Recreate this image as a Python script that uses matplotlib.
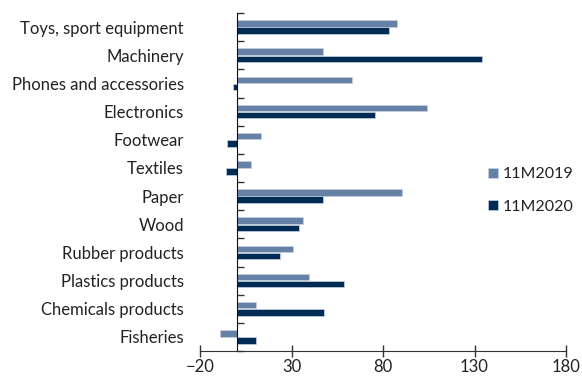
import numpy as np
import matplotlib.pyplot as plt

plt.rcParams['font.family'] = ['Lato', 'DejaVu Sans']

categories = ["Toys, sport equipment", "Machinery", "Phones and accessories",
              "Electronics", "Footwear", "Textiles", "Paper", "Wood",
              "Rubber products", "Plastics products", "Chemicals products",
              "Fisheries"]
y2019 = [87.8, 47.4, 62.9, 103.8, 13.4, 8.1, 90.5, 36.1, 31.0, 39.4, 10.8, -9.0]
y2020 = [83.4, 134.2, -1.7, 75.6, -5.4, -5.9, 47.0, 34.1, 23.9, 58.5, 47.6, 10.5]

c2019 = "#6681a6"
c2020 = "#002b55"
fs = 12

fig = plt.figure(figsize=(5.82, 3.78), dpi=100)
ax = fig.add_axes([200 / 582, 1 - 351 / 378, 366 / 582, 338 / 378])

pos = np.arange(len(categories))
h = 0.23
ax.barh(pos - 0.125, y2019, height=h, color=c2019, edgecolor="#c8d3e0",
        linewidth=0.5, label="11M2019")
ax.barh(pos + 0.125, y2020, height=h, color=c2020, edgecolor="#c8d3e0",
        linewidth=0.5, label="11M2020")

ax.set_xlim(-20, 180)
ax.set_ylim(len(categories) - 0.5, -0.5)
ax.set_xticks([-20, 30, 80, 130, 180])

# category separators on the zero line
ax.set_yticks(np.arange(len(categories) + 1) - 0.5)
ax.set_yticklabels([])
ax.set_yticks(pos, minor=True)
ax.set_yticklabels(categories, minor=True)
ax.tick_params(axis="y", which="minor", length=0, pad=38,
               labelsize=fs, labelcolor="#222222")
ax.tick_params(axis="y", which="major", direction="in", length=5, width=1, color="#333333")
ax.tick_params(axis="x", direction="inout", length=9, width=1, color="#333333",
               labelsize=fs, labelcolor="#222222", pad=1)

for s in ["top", "right"]:
    ax.spines[s].set_visible(False)
ax.spines["left"].set_position(("data", 0))
ax.spines["left"].set_color("#111111")
ax.spines["bottom"].set_color("#333333")

ax.legend(loc="center left", bbox_to_anchor=(0.748, 0.475), frameon=False,
          fontsize=11.5, handlelength=0.6, handleheight=0.6, handletextpad=0.3,
          labelspacing=1.15, labelcolor="#222222")

fig.savefig("out.png", dpi=100)
